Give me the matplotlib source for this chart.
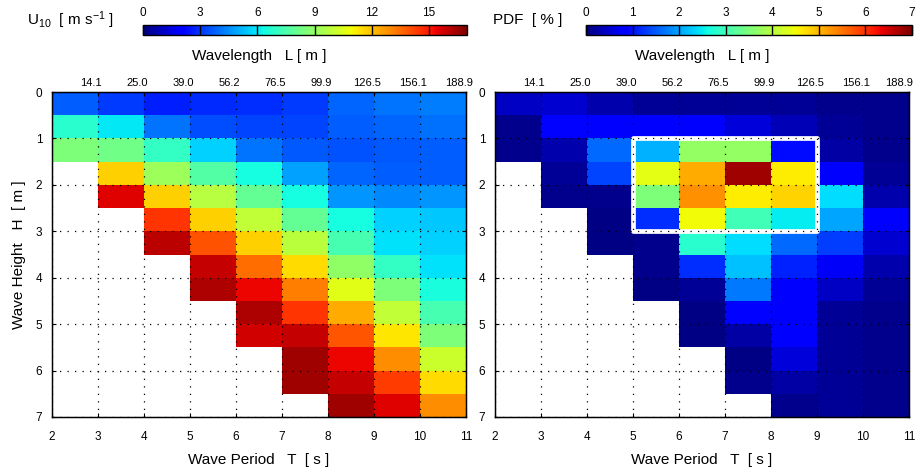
import numpy as np
import matplotlib
matplotlib.use("Agg")
import matplotlib.pyplot as plt
from matplotlib.patches import Rectangle
from matplotlib.transforms import ScaledTranslation, blended_transform_factory

plt.rcParams['font.family'] = ['Liberation Sans', 'DejaVu Sans']
plt.rcParams['mathtext.default'] = 'regular'

nan = np.nan

# Bin edges: wave period T [s] and wave height H [m]
period_edges = np.arange(2, 12, 1)
height_edges = np.arange(0, 7.5, 0.5)

# Wavelength labels on the top axis (deep-water L at T = 3..11 s)
wavelength_ticks = [3, 4, 5, 6, 7, 8, 9, 10, 11]
wavelength_labels = ['14.1', '25.0', '39.0', '56.2', '76.5', '99.9', '126.5', '156.1', '188.9']

# Mean wind speed U10 [m/s] per period bin, listed from H = 0 downward in 0.5 m steps
u10_T2 = [3.7, 6.8, 8.5, nan, nan, nan, nan, nan, nan, nan, nan, nan, nan, nan]
u10_T3 = [3.1, 6.0, 8.3, 11.7, 15.6, nan, nan, nan, nan, nan, nan, nan, nan, nan]
u10_T4 = [2.6, 4.1, 7.0, 9.2, 11.7, 14.5, 16.1, nan, nan, nan, nan, nan, nan, nan]
u10_T5 = [2.8, 3.4, 5.6, 7.7, 9.7, 11.7, 14.0, 16.0, 16.3, nan, nan, nan, nan, nan]
u10_T6 = [2.9, 3.3, 4.1, 6.4, 8.0, 9.9, 11.7, 13.5, 15.4, 16.3, 15.8, nan, nan, nan]
u10_T7 = [3.1, 3.3, 3.6, 4.8, 6.4, 8.0, 9.8, 11.5, 13.2, 14.5, 16.0, 16.5, 16.5, nan]
u10_T8 = [3.8, 3.7, 3.5, 3.8, 4.6, 6.4, 7.4, 8.9, 10.6, 12.4, 13.9, 15.4, 16.0, 16.5]
u10_T9 = [4.1, 3.8, 3.6, 3.7, 4.4, 5.6, 5.9, 7.0, 8.5, 9.9, 11.3, 12.9, 14.4, 15.6]
u10_T10 = [4.2, 4.0, 3.7, 3.7, 4.6, 5.5, 5.6, 5.9, 6.5, 7.4, 8.5, 10.1, 11.5, 12.9]

# Joint occurrence PDF [%] per period bin, same ordering
pdf_T2 = [0.43, 0.1, 0.1, nan, nan, nan, nan, nan, nan, nan, nan, nan, nan, nan]
pdf_T3 = [0.5, 0.9, 0.3, 0.15, 0.1, nan, nan, nan, nan, nan, nan, nan, nan, nan]
pdf_T4 = [0.3, 0.85, 1.6, 1.35, 0.1, 0.05, 0.05, nan, nan, nan, nan, nan, nan, nan]
pdf_T5 = [0.15, 0.85, 2.1, 4.4, 3.5, 1.2, 0.1, 0.1, 0.05, nan, nan, nan, nan, nan]
pdf_T6 = [0.15, 0.8, 3.7, 5.1, 5.3, 4.5, 2.8, 1.2, 0.15, 0.05, 0.05, nan, nan, nan]
pdf_T7 = [0.15, 0.56, 3.7, 6.8, 4.6, 3.0, 2.4, 2.2, 1.7, 0.9, 0.22, 0.05, 0.1, nan]
pdf_T8 = [0.15, 0.35, 0.95, 4.6, 4.8, 2.5, 1.6, 1.1, 0.85, 0.8, 0.85, 0.56, 0.22, 0.1]
pdf_T9 = [0.1, 0.15, 0.22, 0.8, 2.4, 2.0, 1.3, 0.75, 0.43, 0.15, 0.15, 0.15, 0.15, 0.15]
pdf_T10 = [0.1, 0.1, 0.1, 0.15, 0.3, 0.8, 0.5, 0.3, 0.15, 0.1, 0.1, 0.1, 0.1, 0.1]

u10 = np.ma.masked_invalid(np.array([u10_T2, u10_T3, u10_T4, u10_T5, u10_T6,
                                     u10_T7, u10_T8, u10_T9, u10_T10]).T)
pdf = np.ma.masked_invalid(np.array([pdf_T2, pdf_T3, pdf_T4, pdf_T5, pdf_T6,
                                     pdf_T7, pdf_T8, pdf_T9, pdf_T10]).T)

W, H = 915, 471
fig = plt.figure(figsize=(W / 100, H / 100), dpi=100)


def px_axes(x0, y0, x1, y1):
    return fig.add_axes([x0 / W, 1 - y1 / H, (x1 - x0) / W, (y1 - y0) / H])


TICK_FS = 8.5
TOP_FS = 8
LABEL_FS = 11
GRID_STYLE = dict(color='k', linestyle=(0, (1, 5)), linewidth=0.9)


def panel(ax, data, vmax, show_ylabel, last_label_right=False):
    mesh = ax.pcolormesh(period_edges, height_edges, data, cmap='jet',
                         vmin=0, vmax=vmax, shading='flat')
    ax.set_xlim(2, 11)
    ax.set_ylim(7, 0)
    ax.set_xticks(range(2, 12))
    ax.set_yticks(range(0, 8))
    ax.set_axisbelow(False)
    ax.grid(True, **GRID_STYLE)
    ax.tick_params(axis='x', direction='in', length=3, width=0.8,
                   labelsize=TICK_FS, pad=10)
    ax.tick_params(axis='y', direction='in', length=3, width=0.8,
                   labelsize=TICK_FS, pad=7, right=True)
    ax.set_xlabel('Wave Period   T  [ s ]', fontsize=LABEL_FS, labelpad=7)
    if show_ylabel:
        ax.set_ylabel('Wave Height   H  [ m ]', fontsize=LABEL_FS, labelpad=7)
    for s in ax.spines.values():
        s.set_linewidth(1.0)

    # Top axis: wavelength corresponding to each period
    top = ax.twiny()
    top.set_xlim(2, 11)
    top.set_xticks(wavelength_ticks)
    top.set_xticklabels([])
    top.tick_params(direction='in', length=3, width=0.8)
    base = blended_transform_factory(top.transData, top.transAxes)
    lift = 4 / 100
    for i, (t, lab) in enumerate(zip(wavelength_ticks, wavelength_labels)):
        if last_label_right and i == len(wavelength_ticks) - 1:
            off = ScaledTranslation(4 / 100, lift, fig.dpi_scale_trans)
            ha = 'right'
        else:
            off = ScaledTranslation(-7 / 100, lift, fig.dpi_scale_trans)
            ha = 'center'
        top.text(t, 1.0, lab, transform=base + off, ha=ha, va='bottom',
                 fontsize=TOP_FS, clip_on=False)
    top.text(0.5, 1.0, 'Wavelength   L [ m ]',
             transform=top.transAxes + ScaledTranslation(0, 29 / 100, fig.dpi_scale_trans),
             ha='center', va='bottom', fontsize=LABEL_FS)
    return mesh


def top_colorbar(mesh, cax, ticks):
    cb = fig.colorbar(mesh, cax=cax, orientation='horizontal', ticklocation='top')
    cb.set_ticks(ticks)
    cb.ax.tick_params(direction='in', length=7.5, width=1.0, color='k',
                      labelsize=TICK_FS, pad=4)
    cb.outline.set_linewidth(1.0)
    return cb


ax_left = px_axes(52, 92, 466, 417)
ax_right = px_axes(495, 92, 909, 417)

mesh_u = panel(ax_left, u10, 17, True)
mesh_p = panel(ax_right, pdf, 7, False, last_label_right=True)

# Highlighted region of highest occurrence
ax_right.add_patch(Rectangle((5, 1), 4, 2, fill=False, edgecolor='white',
                             linewidth=3.4, zorder=2, joinstyle='round'))

cax_u = px_axes(143, 25, 467, 35)
cax_p = px_axes(586, 25, 912, 35)
top_colorbar(mesh_u, cax_u, [0, 3, 6, 9, 12, 15])
top_colorbar(mesh_p, cax_p, [0, 1, 2, 3, 4, 5, 6, 7])

fig.text(27 / W, 1 - 20 / H, r'U$_{10}$  [ m s$^{-1}$ ]', fontsize=LABEL_FS,
         ha='left', va='center')
fig.text(493 / W, 1 - 20 / H, 'PDF  [ % ]', fontsize=LABEL_FS,
         ha='left', va='center')

fig.savefig('out.png', dpi=100)
